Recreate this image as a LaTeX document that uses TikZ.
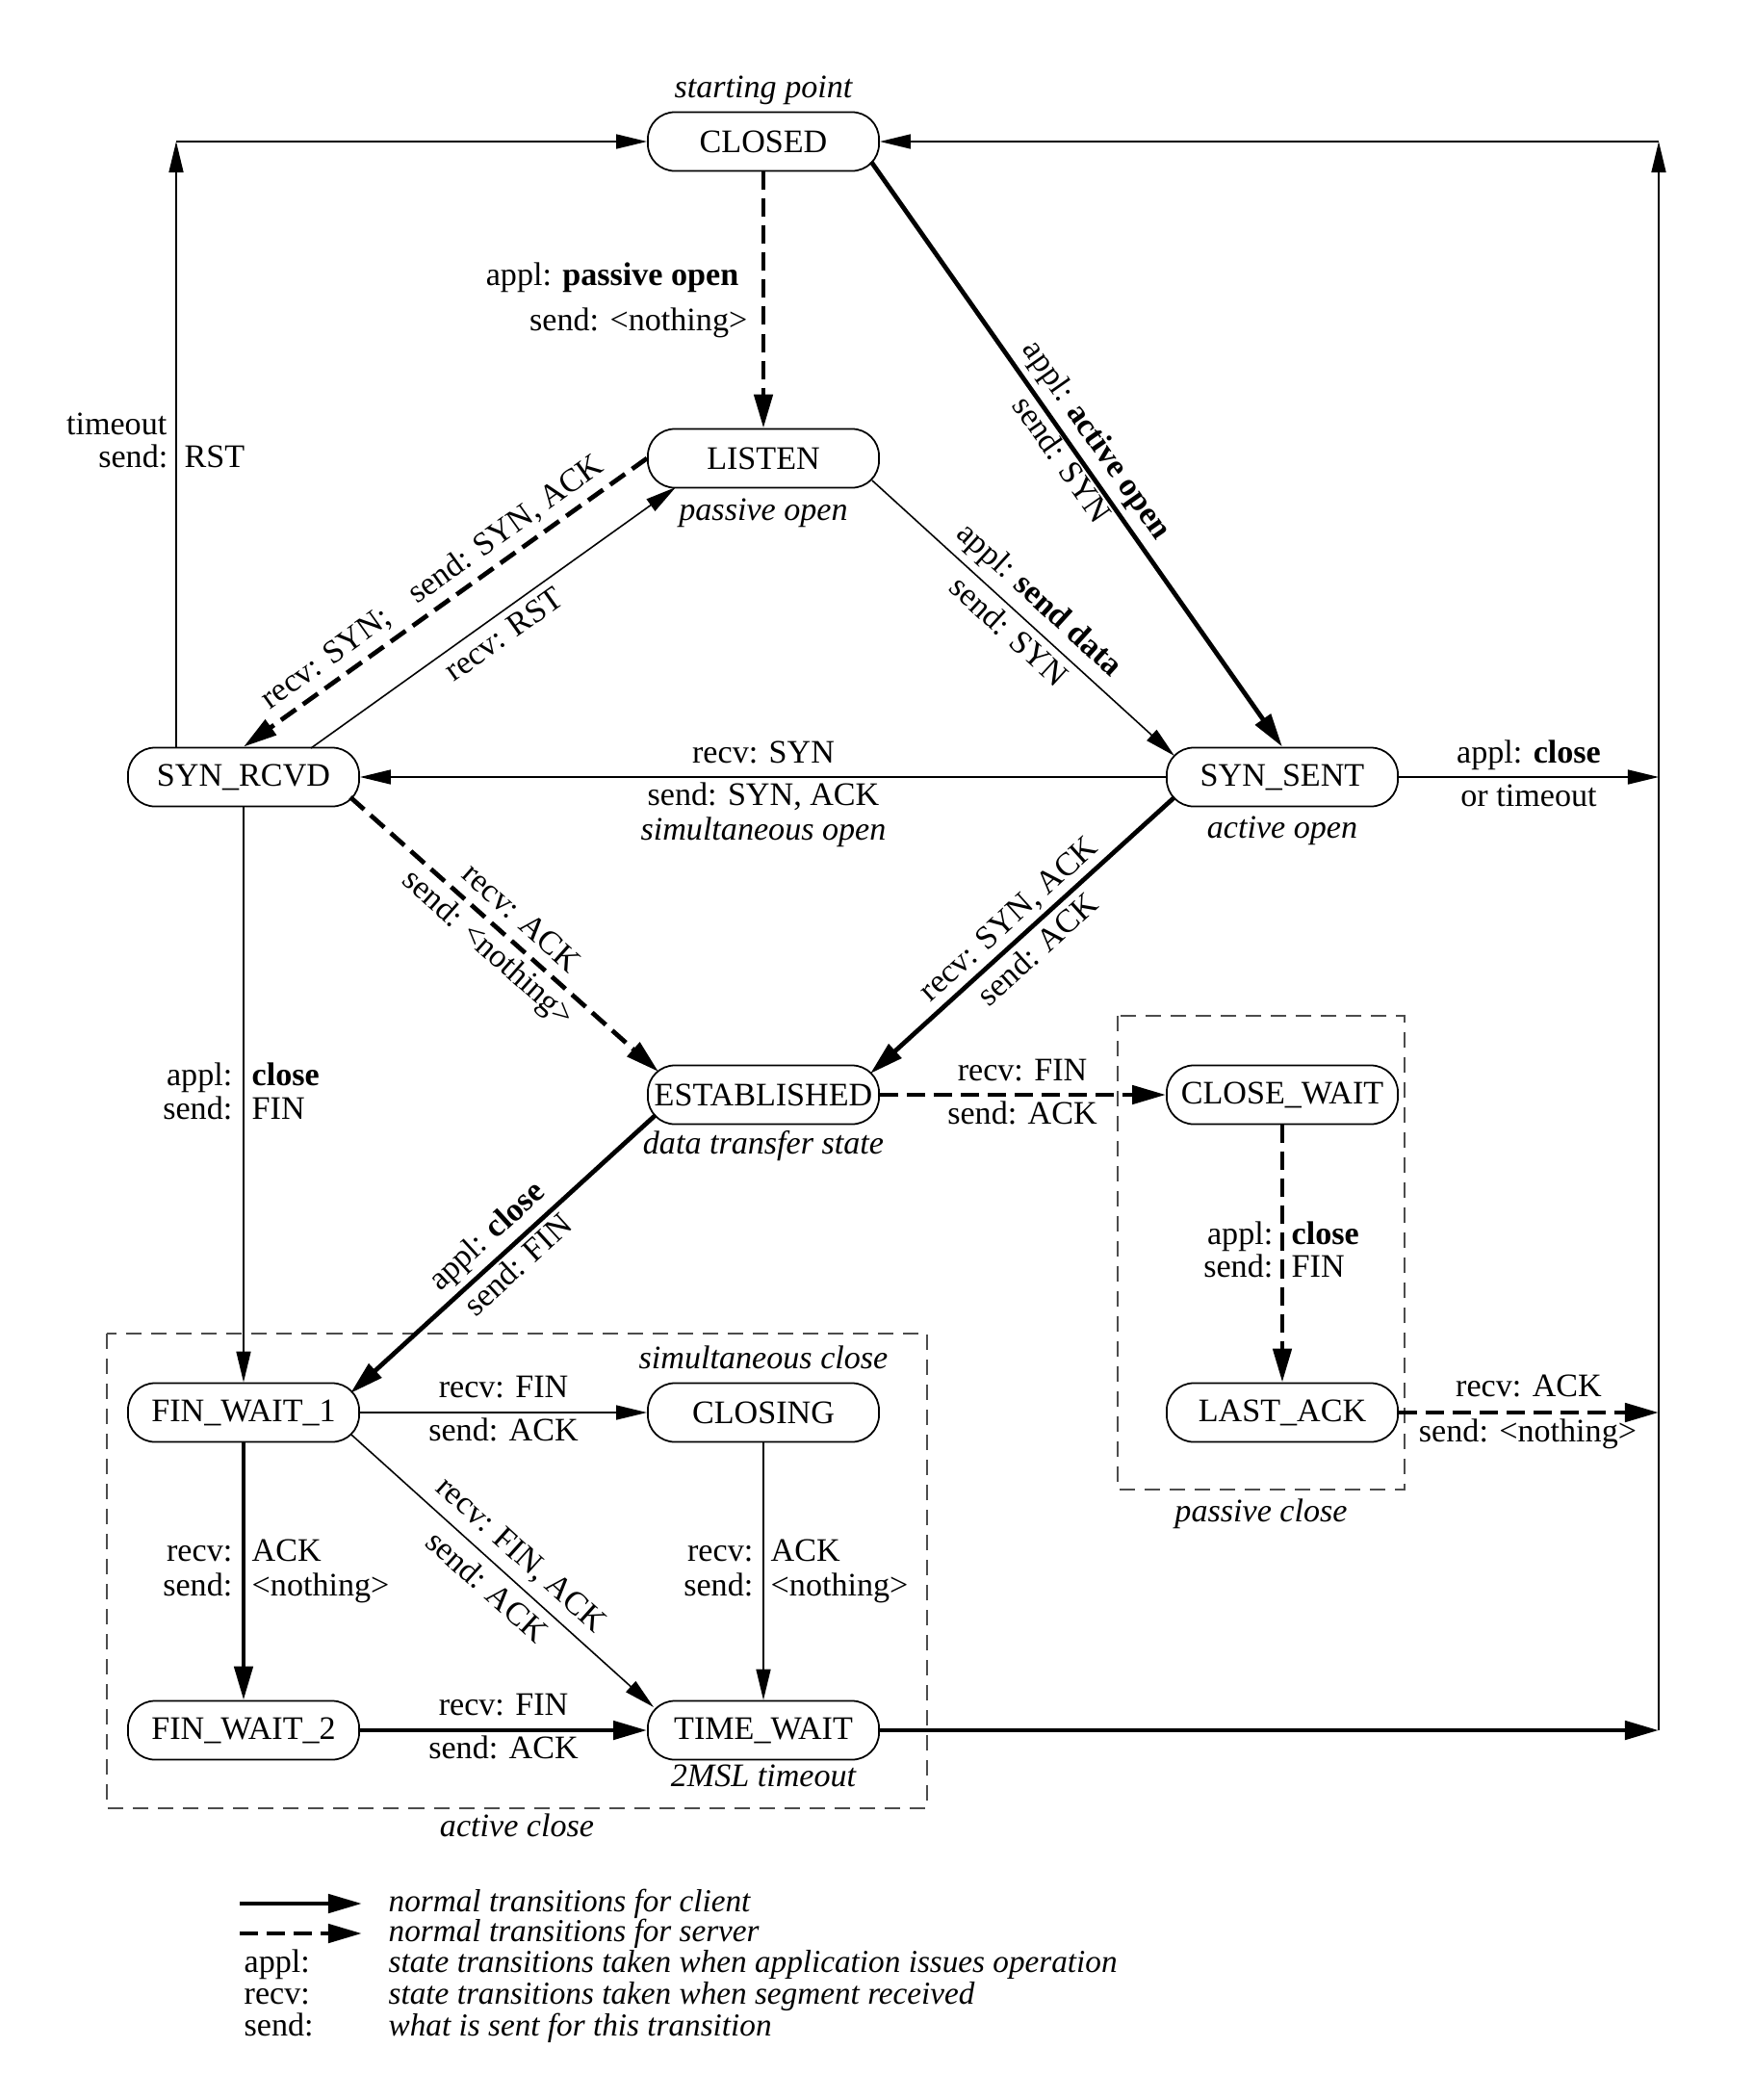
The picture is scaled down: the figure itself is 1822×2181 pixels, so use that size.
\documentclass[tikz,border=0pt]{standalone}
\usepackage{fontspec}
\setmainfont{Liberation Serif}
\usetikzlibrary{arrows.meta}
\begin{document}
\begin{tikzpicture}[x=0.01cm, y=-0.01cm,
  every node/.style={font=\fontsize{9.7pt}{11.6pt}\selectfont, inner sep=0pt},
  st/.style={draw, line width=0.5pt, rounded corners=0.28cm, minimum width=2.4cm, minimum height=0.61cm, inner sep=0pt},
  lbl/.style={text height=0.68em, text depth=0.22em},
  ann/.style={lbl, font=\fontsize{9.7pt}{11.6pt}\selectfont\itshape},
  legann/.style={lbl, font=\fontsize{9.45pt}{11.4pt}\selectfont\itshape},
  thinln/.style={line width=0.45pt},
  thickln/.style={line width=1.35pt},
  thinarr/.style={thinln, -{Triangle[length=0.32cm, width=0.15cm]}},
  thickarr/.style={thickln, -{Triangle[length=0.35cm, width=0.19cm]}},
  dasharr/.style={thickarr, dash pattern=on 0.19cm off 0.09cm},
  boxln/.style={draw=black!70, line width=0.5pt, dash pattern=on 0.16cm off 0.1cm},
]
\useasboundingbox (0,0) rectangle (1822,2181);

% states
\node[st] (closed) at (793,147) {CLOSED};
\node[st] (listen) at (793,476) {LISTEN};
\node[st] (synrcvd) at (253,807) {SYN\_RCVD};
\node[st] (synsent) at (1332,807) {SYN\_SENT};
\node[st] (estab) at (793,1137) {ESTABLISHED};
\node[st] (closewait) at (1332,1137) {CLOSE\_WAIT};
\node[st] (finwait1) at (253,1467) {FIN\_WAIT\_1};
\node[st] (closing) at (793,1467) {CLOSING};
\node[st] (lastack) at (1332,1467) {LAST\_ACK};
\node[st] (finwait2) at (253,1797) {FIN\_WAIT\_2};
\node[st] (timewait) at (793,1797) {TIME\_WAIT};

% helper coordinates
\coordinate (tl) at (183,147);
\coordinate (tr) at (1723,147);
\coordinate (rsyn) at (1723,807);
\coordinate (rlast) at (1723,1467);
\coordinate (rtime) at (1723,1797);

% boxes
\draw[boxln] (111,1385) rectangle (963,1878);
\draw[boxln] (1161,1055) rectangle (1459,1547);

% connectors
\draw[dasharr] (closed.south) -- (listen.north);
\draw[thickarr] ([shift={(112,21)}]closed.center) -- (synsent.north);
\draw[dasharr] (listen.west) -- (synrcvd.north);
\draw[thinarr] ([shift={(70,-30)}]synrcvd.center) -- ([shift={(-91,30)}]listen.center);
\draw[thinarr] ([shift={(113,23)}]listen.center) -- ([shift={(-112,-22)}]synsent.center);
\draw[thinarr] (synsent.west) -- (synrcvd.east);
\draw[thinarr] (synsent.east) -- (rsyn);
\draw[dasharr] ([shift={(111,21)}]synrcvd.center) -- ([shift={(-109,-24)}]estab.center);
\draw[thickarr] ([shift={(-112,21)}]synsent.center) -- ([shift={(111,-22)}]estab.center);
\draw[thinarr] (synrcvd.south) -- (finwait1.north);
\draw[dasharr] (estab.east) -- (closewait.west);
\draw[thickarr] ([shift={(-112,21)}]estab.center) -- ([shift={(111,-20)}]finwait1.center);
\draw[dasharr] (closewait.south) -- (lastack.north);
\draw[thinarr] (finwait1.east) -- (closing.west);
\draw[thickarr] (finwait1.south) -- (finwait2.north);
\draw[thinarr] ([shift={(112,23)}]finwait1.center) -- ([shift={(-114,-24)}]timewait.center);
\draw[thinarr] (closing.south) -- (timewait.north);
\draw[thickarr] (finwait2.east) -- (timewait.west);
\draw[thickarr] (timewait.east) -- (rtime);
\draw[dasharr] (lastack.east) -- (rlast);
\draw[thinarr] (rtime) -- (tr);
\draw[thinarr] (tr) -- (closed.east);
\draw[thinarr] (synrcvd.north -| tl) -- (tl);
\draw[thinarr] (tl) -- (closed.west);

% annotations
\node[ann] (n1) at (793,93) {starting point};
\node[ann] (n2) at (793,532) {passive open};
\node[ann] (n3) at (1332,862) {active open};
\node[ann] (n4) at (793,864) {simultaneous open};
\node[ann] (n5) at (793,1190) {data transfer state};
\node[ann] (n6) at (793,1413) {simultaneous close};
\node[ann] (n7) at (793,1847) {2MSL timeout};
\node[ann] (n8) at (537,1899) {active close};
\node[ann] (n9) at (1310,1572) {passive close};

% edge labels
\node[lbl, anchor=east] (l1) at (768,288) {appl: \textbf{passive open}};
\node[lbl, anchor=east] (l2) at (777,335) {send: <nothing>};
\node[lbl, anchor=east] (l3) at (174,443) {timeout};
\node[lbl, anchor=east] (l4) at (175,477) {send:};
\node[lbl, anchor=west] (l5) at (191,477) {RST};
\node[lbl, rotate=35.6] (l6) at (450,606) {recv: SYN;\hspace{0.9em}send: SYN, ACK};
\node[lbl, rotate=35.4] (l7) at (525,661) {recv: RST};
\node[lbl, rotate=-42.3] (l8) at (1079,624) {appl: \textbf{send data}};
\node[lbl, rotate=-42.3] (l9) at (1046,658) {send: SYN};
\node[lbl, rotate=-55] (l10) at (1138,458) {appl: \textbf{active open}};
\node[lbl, rotate=-55] (l11) at (1101,479) {send: SYN};
\node[lbl] (l12) at (793,784) {recv: SYN};
\node[lbl] (l13) at (793,828) {send: SYN, ACK};
\node[lbl] (l14) at (1588,784) {appl: \textbf{close}};
\node[lbl] (l15) at (1588,829) {or timeout};
\node[lbl, rotate=-41.7] (l16) at (540,955) {recv: ACK};
\node[lbl, rotate=-41.7] (l17) at (506,986) {send: <nothing>};
\node[lbl, rotate=42.2] (l18) at (1049,956) {recv: SYN, ACK};
\node[lbl, rotate=42.2] (l19) at (1080,988) {send: ACK};
\node[lbl] (l20) at (1062,1114) {recv: FIN};
\node[lbl] (l21) at (1062,1159) {send: ACK};
\node[lbl, anchor=east] (l22) at (1323,1284) {appl:};
\node[lbl, anchor=west] (l23) at (1341,1284) {\textbf{close}};
\node[lbl, anchor=east] (l24) at (1323,1318) {send:};
\node[lbl, anchor=west] (l25) at (1341,1318) {FIN};
\node[lbl, rotate=42.4] (l26) at (507,1285) {appl: \textbf{close}};
\node[lbl, rotate=42.4] (l27) at (540,1316) {send: FIN};
\node[lbl, anchor=east] (l28) at (242,1119) {appl:};
\node[lbl, anchor=west] (l29) at (261,1119) {\textbf{close}};
\node[lbl, anchor=east] (l30) at (242,1154) {send:};
\node[lbl, anchor=west] (l31) at (261,1154) {FIN};
\node[lbl] (l32) at (523,1443) {recv: FIN};
\node[lbl] (l33) at (523,1488) {send: ACK};
\node[lbl, anchor=east] (l34) at (242,1613) {recv:};
\node[lbl, anchor=west] (l35) at (261,1613) {ACK};
\node[lbl, anchor=east] (l36) at (242,1649) {send:};
\node[lbl, anchor=west] (l37) at (261,1649) {<nothing>};
\node[lbl, rotate=-42] (l38) at (540,1616) {recv: FIN, ACK};
\node[lbl, rotate=-42] (l39) at (504,1650) {send: ACK};
\node[lbl, anchor=east] (l40) at (783,1613) {recv:};
\node[lbl, anchor=west] (l41) at (800,1613) {ACK};
\node[lbl, anchor=east] (l42) at (783,1649) {send:};
\node[lbl, anchor=west] (l43) at (800,1649) {<nothing>};
\node[lbl] (l44) at (523,1773) {recv: FIN};
\node[lbl] (l45) at (523,1818) {send: ACK};
\node[lbl] (l46) at (1588,1442) {recv: ACK};
\node[lbl] (l47) at (1587,1489) {send: <nothing>};

% legend
\coordinate (g1a) at (249,1977);
\coordinate (g1b) at (376,1977);
\coordinate (g2a) at (249,2008);
\coordinate (g2b) at (376,2008);
\draw[thickarr] (g1a) -- (g1b);
\draw[dasharr] (g2a) -- (g2b);
\node[legann, anchor=west] (k1) at (403,1977) {normal transitions for client};
\node[legann, anchor=west] (k2) at (403,2008) {normal transitions for server};
\node[lbl, anchor=west] (k3) at (253,2040) {appl:};
\node[legann, anchor=west] (k4) at (403,2040) {state transitions taken when application issues operation};
\node[lbl, anchor=west] (k5) at (253,2073) {recv:};
\node[legann, anchor=west] (k6) at (403,2073) {state transitions taken when segment received};
\node[lbl, anchor=west] (k7) at (253,2106) {send:};
\node[legann, anchor=west] (k8) at (403,2106) {what is sent for this transition};
\end{tikzpicture}
\end{document}
